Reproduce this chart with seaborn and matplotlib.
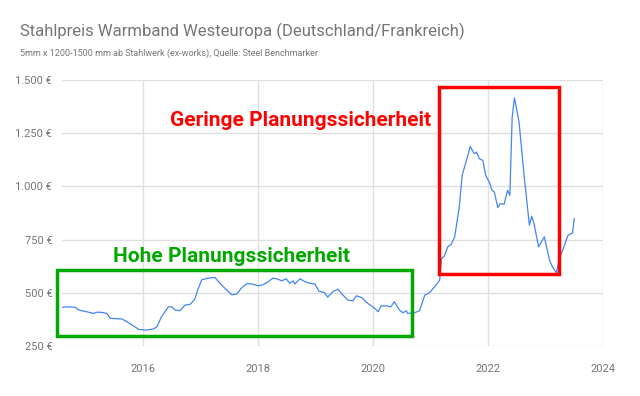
import matplotlib
matplotlib.use("Agg")
import matplotlib.pyplot as plt
import seaborn as sns
import pandas as pd
from matplotlib.patches import Rectangle
from matplotlib.ticker import FuncFormatter

years = [2014.59, 2014.67, 2014.82, 2014.88, 2015.02, 2015.14, 2015.20, 2015.28, 2015.37, 2015.43,
         2015.63, 2015.72, 2015.86, 2015.92, 2016.06, 2016.18, 2016.24, 2016.32, 2016.44, 2016.50,
         2016.56, 2016.64, 2016.73, 2016.82, 2016.90, 2016.96, 2017.02, 2017.13, 2017.25, 2017.31,
         2017.42, 2017.54, 2017.63, 2017.71, 2017.80, 2017.89, 2018.00, 2018.09, 2018.18, 2018.26,
         2018.35, 2018.41, 2018.49, 2018.55, 2018.61, 2018.64, 2018.73, 2018.81, 2018.90, 2018.99,
         2019.06, 2019.15, 2019.21, 2019.30, 2019.39, 2019.45, 2019.56, 2019.65, 2019.71, 2019.80,
         2019.91, 2020.03, 2020.09, 2020.14, 2020.23, 2020.31, 2020.37, 2020.46, 2020.52, 2020.58,
         2020.60, 2020.72, 2020.81, 2020.90, 2020.98, 2021.07, 2021.12, 2021.16, 2021.19, 2021.24,
         2021.30, 2021.36, 2021.42, 2021.50, 2021.55, 2021.65, 2021.69, 2021.76, 2021.80, 2021.85,
         2021.91, 2021.96, 2022.02, 2022.07, 2022.11, 2022.17, 2022.21, 2022.28, 2022.34, 2022.38,
         2022.42, 2022.46, 2022.54, 2022.63, 2022.72, 2022.76, 2022.80, 2022.88, 2022.98, 2023.07,
         2023.12, 2023.19, 2023.24, 2023.31, 2023.39, 2023.47, 2023.50]
prices = [432, 434, 432, 419, 411, 403, 409, 408, 403, 380,
          377, 364, 340, 328, 325, 330, 340, 387, 434, 434,
          419, 416, 442, 446, 470, 520, 561, 569, 572, 553,
          522, 491, 494, 522, 542, 542, 533, 538, 553, 569,
          564, 556, 566, 545, 556, 541, 566, 553, 545, 541,
          507, 502, 480, 505, 517, 497, 466, 462, 486, 478,
          450, 427, 411, 438, 439, 434, 458, 419, 406, 416,
          403, 406, 416, 489, 500, 528, 545, 560, 661, 673,
          716, 728, 763, 903, 1052, 1146, 1188, 1154, 1161, 1130,
          1122, 1052, 1021, 982, 974, 900, 919, 916, 982, 958,
          1325, 1416, 1302, 1044, 817, 860, 825, 716, 763, 653,
          622, 594, 661, 708, 770, 781, 849]

x_ticks = [2016, 2018, 2020, 2022, 2024]
y_ticks = [250, 500, 750, 1000, 1250, 1500]

title = "Stahlpreis Warmband Westeuropa (Deutschland/Frankreich)"
subtitle = "5mm x 1200-1500 mm ab Stahlwerk (ex-works), Quelle: Steel Benchmarker"
label_high = "Hohe Planungssicherheit"
label_low = "Geringe Planungssicherheit"

sns.set_theme(style="white")
plt.rcParams['font.family'] = ['Roboto', 'DejaVu Sans']

df = pd.DataFrame({"Jahr": years, "Preis": prices})

fig = plt.figure(figsize=(6.4, 3.96), dpi=100)
ax = fig.add_axes([62/640, 50/396, (603-62)/640, (346-80)/396])

grid_c = "#e0e0e0"
for yv in y_ticks:
    ax.axhline(yv, color=grid_c, lw=1, zorder=0)
for xv in x_ticks:
    ax.axvline(xv, color=grid_c, lw=1, zorder=0)

sns.lineplot(data=df, x="Jahr", y="Preis", ax=ax, color="#4285f4", lw=0.9, zorder=3)

ax.set_xlim(2014.59, 2024.0)
ax.set_ylim(250, 1500)
ax.set_xticks(x_ticks)
ax.set_yticks(y_ticks)
ax.set_xticklabels([str(t) for t in x_ticks])
ax.yaxis.set_major_formatter(FuncFormatter(lambda v, p: f"{int(v):,} €".replace(",", ".")))
ax.tick_params(axis="x", length=10, width=1, color=grid_c, labelsize=8, labelcolor="#757575", pad=3)
ax.tick_params(axis="y", length=0, labelsize=8, labelcolor="#757575", pad=7)
ax.set_xlabel("")
ax.set_ylabel("")
for s in ax.spines.values():
    s.set_visible(False)

# annotation boxes
green = "#00a800"
red = "#ff0000"
ax.add_patch(Rectangle((2014.507, 297), 2020.67 - 2014.507, 606 - 297, fill=False,
                       ec=green, lw=2.5, clip_on=False, zorder=4))
ax.add_patch(Rectangle((2021.14, 588), 2023.24 - 2021.14, 1465 - 588, fill=False,
                       ec=red, lw=2.5, clip_on=False, zorder=4))
ax.text(2016.0 + (232 - 143) / 57.6, 250 + (346 - 256) * 250 / 53.3, label_high,
        color=green, fontsize=15, fontweight="bold", ha="center", va="center")
ax.text(2016.0 + (432 - 143) / 57.6, 250 + (346 - 120) * 250 / 53.3, label_low,
        color=red, fontsize=15, fontweight="bold", ha="right", va="center")

fig.text(20/640, 1 - 31/396, title, fontsize=12, color="#757575", ha="left", va="center")
fig.text(20/640, 1 - 53/396, subtitle, fontsize=6.5, color="#757575", ha="left", va="center")

fig.savefig("out.png", dpi=100)
